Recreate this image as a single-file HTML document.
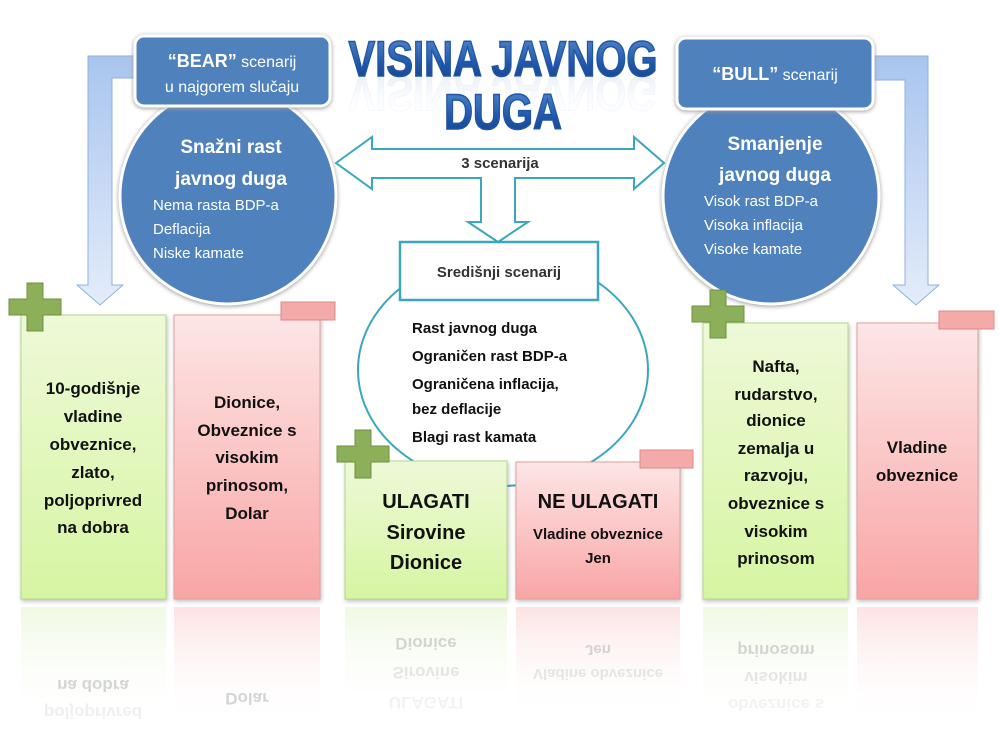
<!DOCTYPE html>
<html><head><meta charset="utf-8"><style>
html,body{margin:0;padding:0;background:#fff;width:1000px;height:750px;overflow:hidden}
svg{display:block}
text{font-family:"Liberation Sans",sans-serif}
</style></head><body>
<svg width="1000" height="750" viewBox="0 0 1000 750" xmlns="http://www.w3.org/2000/svg">
<defs>
<linearGradient id="gG" x1="0" y1="0" x2="0" y2="1"><stop offset="0" stop-color="#eef9d8"/><stop offset="1" stop-color="#d6f5a2"/></linearGradient>
<linearGradient id="gR" x1="0" y1="0" x2="0" y2="1"><stop offset="0" stop-color="#fde6e6"/><stop offset="1" stop-color="#f9a5a5"/></linearGradient>
<linearGradient id="gGr" x1="0" y1="0" x2="0" y2="1"><stop offset="0" stop-color="#e6f5cf" stop-opacity=".6"/><stop offset="1" stop-color="#fff" stop-opacity="0"/></linearGradient>
<linearGradient id="gRr" x1="0" y1="0" x2="0" y2="1"><stop offset="0" stop-color="#fbd0d0" stop-opacity=".6"/><stop offset="1" stop-color="#fff" stop-opacity="0"/></linearGradient>
<linearGradient id="gArr" x1="0" y1="0" x2="0" y2="1"><stop offset="0" stop-color="#a9c5ee"/><stop offset="1" stop-color="#e3ecfa"/></linearGradient>
<linearGradient id="gT" x1="0" y1="0" x2="0" y2="1"><stop offset="0" stop-color="#5b8fd0"/><stop offset=".6" stop-color="#1f56a8"/><stop offset="1" stop-color="#173f80"/></linearGradient>
<linearGradient id="gTr" x1="0" y1="0" x2="0" y2="1"><stop offset="0" stop-color="#fff" stop-opacity="0"/><stop offset="1" stop-color="#9bb6dd" stop-opacity=".6"/></linearGradient>
</defs>

<path d="M140,56 L88,56 L88,285 L77,285 L100,305 L123,285 L112,285 L112,78 L140,78 Z" fill="url(#gArr)" stroke="#8fb0e0" stroke-width="1"/>
<path d="M870,56 L928,56 L928,285 L939,285 L916,305 L893,285 L905,285 L905,80 L870,80 Z" fill="url(#gArr)" stroke="#8fb0e0" stroke-width="1"/>

<g font-weight="bold" font-size="50" text-anchor="middle">
<text x="503" y="-76" fill="url(#gTr)" transform="translate(503 0) scale(0.8 -1) translate(-503 0)" opacity=".5" stroke="#9bb6dd" stroke-opacity=".2">VISINA JAVNOG</text>
<text x="503" y="76" fill="url(#gT)" stroke="#1f56a8" stroke-width="1.5" transform="translate(503 0) scale(0.8 1) translate(-503 0)">VISINA JAVNOG</text>
<text x="503" y="129" fill="url(#gT)" stroke="#1f56a8" stroke-width="1.5" transform="translate(503 0) scale(0.8 1) translate(-503 0)">DUGA</text>
</g>

<ellipse cx="503" cy="370" rx="145" ry="116" fill="#fff" stroke="#3aa7bd" stroke-width="2"/>

<path d="M336,163 L372,137 L372,149 L634,149 L634,137 L664,163 L634,189 L634,178 L515,178 L515,222 L528,222 L498,242 L468,222 L481,222 L481,178 L372,178 L372,189 Z" fill="#fff" stroke="#3aa7bd" stroke-width="2"/>
<text x="500" y="168" font-size="15" font-weight="bold" fill="#333" text-anchor="middle">3 scenarija</text>

<circle cx="228" cy="196" r="108" fill="#4f81bd" stroke="#fff" stroke-width="3" style="filter:drop-shadow(0 1px 2px #999)"/>
<circle cx="771" cy="196" r="108" fill="#4f81bd" stroke="#fff" stroke-width="3" style="filter:drop-shadow(0 1px 2px #999)"/>
<rect x="135" y="36" width="195" height="70" rx="9" fill="#4f81bd" stroke="#fff" stroke-width="3" style="filter:drop-shadow(0 1px 2px #999)"/>
<rect x="677" y="38" width="196" height="71" rx="9" fill="#4f81bd" stroke="#fff" stroke-width="3" style="filter:drop-shadow(0 1px 2px #999)"/>
<g fill="#fff">
<text x="232" y="67" font-size="16" text-anchor="middle"><tspan font-weight="bold" font-size="18">“BEAR”</tspan> scenarij</text>
<text x="232" y="92" font-size="16" text-anchor="middle">u najgorem slučaju</text>
<text x="775" y="80" font-size="16" text-anchor="middle"><tspan font-weight="bold" font-size="18">“BULL”</tspan> scenarij</text>
<text x="231" y="153" font-size="19" font-weight="bold" text-anchor="middle">Snažni rast</text>
<text x="231" y="185" font-size="19" font-weight="bold" text-anchor="middle">javnog duga</text>
<text x="153" y="210" font-size="15">Nema rasta BDP-a</text>
<text x="153" y="234" font-size="15">Deflacija</text>
<text x="153" y="258" font-size="15">Niske kamate</text>
<text x="775" y="150" font-size="19" font-weight="bold" text-anchor="middle">Smanjenje</text>
<text x="775" y="181" font-size="19" font-weight="bold" text-anchor="middle">javnog duga</text>
<text x="704" y="206" font-size="15">Visok rast BDP-a</text>
<text x="704" y="230" font-size="15">Visoka inflacija</text>
<text x="704" y="254" font-size="15">Visoke kamate</text>
</g>

<rect x="400" y="242" width="198" height="58" fill="#fff" stroke="#3aa7bd" stroke-width="2.5"/>
<text x="499" y="277" font-size="15" font-weight="bold" fill="#333" text-anchor="middle">Središnji scenarij</text>
<g font-size="15" font-weight="bold" fill="#111">
<text x="412" y="333">Rast javnog  duga</text>
<text x="412" y="361">Ograničen rast BDP-a</text>
<text x="412" y="389">Ograničena inflacija,</text>
<text x="412" y="414">bez deflacije</text>
<text x="412" y="442">Blagi rast kamata</text>
</g>

<rect x="21" y="607" width="145" height="120" fill="url(#gGr)"/>
<rect x="174" y="607" width="146" height="120" fill="url(#gRr)"/>
<rect x="345" y="607" width="162" height="110" fill="url(#gGr)"/>
<rect x="516" y="607" width="164" height="110" fill="url(#gRr)"/>
<rect x="703" y="607" width="145" height="120" fill="url(#gGr)"/>
<rect x="857" y="607" width="121" height="120" fill="url(#gRr)"/>
<g font-size="17" font-weight="bold" fill="#bbb" text-anchor="middle" opacity=".6" transform="translate(0 1207) scale(1 -1)">
<text x="93" y="527">na dobra</text>
<text x="93" y="500" opacity=".4">poljoprivred</text>
<text x="247" y="514">Dolar</text>
<text x="426" y="569">Dionice</text>
<text x="426" y="540" opacity=".6">Sirovine</text>
<text x="426" y="510" opacity=".3">ULAGATI</text>
<text x="598" y="562" font-size="15">Jen</text>
<text x="598" y="538" font-size="15" opacity=".6">Vladine obveznice</text>
<text x="776" y="562">prinosom</text>
<text x="776" y="535" opacity=".6">visokim</text>
<text x="776" y="508" opacity=".3">obveznice s</text>
</g>

<g style="filter:drop-shadow(1px 2px 2px rgba(0,0,0,.25))">
<rect x="21" y="315" width="145" height="284" fill="url(#gG)" stroke="#b5d98a"/>
<rect x="174" y="315" width="146" height="284" fill="url(#gR)" stroke="#e3a0a0"/>
<rect x="345" y="461" width="162" height="138" fill="url(#gG)" stroke="#b5d98a"/>
<rect x="516" y="462" width="164" height="137" fill="url(#gR)" stroke="#e3a0a0"/>
<rect x="703" y="323" width="145" height="276" fill="url(#gG)" stroke="#b5d98a"/>
<rect x="857" y="323" width="121" height="276" fill="url(#gR)" stroke="#e3a0a0"/>
</g>
<g fill="#f5aaaa" stroke="#d88" stroke-width="1">
<rect x="281" y="302" width="54" height="18"/>
<rect x="640" y="450" width="53" height="18"/>
<rect x="939" y="311" width="55" height="18"/>
</g>
<g fill="#8cb059" stroke="#6f9040" stroke-width="1">
<path d="M27,283 h16 v16 h18 v16 h-18 v16 h-16 v-16 h-18 v-16 h18 z"/>
<path d="M355,430 h16 v16 h18 v16 h-18 v16 h-16 v-16 h-18 v-16 h18 z"/>
<path d="M710,290 h16 v16 h18 v16 h-18 v16 h-16 v-16 h-18 v-16 h18 z"/>
</g>

<g font-size="17" font-weight="bold" fill="#111" text-anchor="middle">
<text x="93" y="394">10-godišnje</text>
<text x="93" y="422">vladine</text>
<text x="93" y="450">obveznice,</text>
<text x="93" y="478">zlato,</text>
<text x="93" y="506">poljoprivred</text>
<text x="93" y="533">na dobra</text>
<text x="247" y="408">Dionice,</text>
<text x="247" y="436">Obveznice s</text>
<text x="247" y="463">visokim</text>
<text x="247" y="491">prinosom,</text>
<text x="247" y="519">Dolar</text>
<text x="426" y="508" font-size="20">ULAGATI</text>
<text x="426" y="539" font-size="20">Sirovine</text>
<text x="426" y="569" font-size="20">Dionice</text>
<text x="598" y="508" font-size="20">NE ULAGATI</text>
<text x="598" y="539" font-size="15">Vladine obveznice</text>
<text x="598" y="563" font-size="15">Jen</text>
<text x="776" y="372">Nafta,</text>
<text x="776" y="400">rudarstvo,</text>
<text x="776" y="426">dionice</text>
<text x="776" y="454">zemalja u</text>
<text x="776" y="481">razvoju,</text>
<text x="776" y="509">obveznice s</text>
<text x="776" y="537">visokim</text>
<text x="776" y="564">prinosom</text>
<text x="917" y="453">Vladine</text>
<text x="917" y="481">obveznice</text>
</g>
</svg>
</body></html>
